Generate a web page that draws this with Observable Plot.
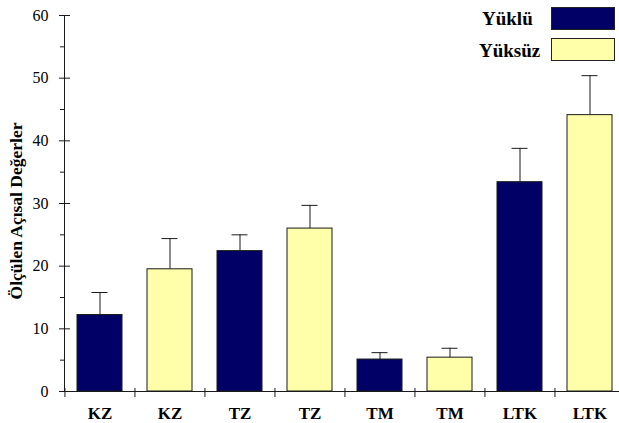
<!DOCTYPE html>
<html><head><meta charset="utf-8">
<script src="https://cdn.jsdelivr.net/npm/d3@7"></script>
<script src="https://cdn.jsdelivr.net/npm/@observablehq/plot@0.6"></script>
<style>
html,body{margin:0;padding:0;background:#fff;overflow:hidden}
#wrap{position:relative;width:619px;height:423px;overflow:hidden}
.leg{position:absolute;font:bold 19px "Liberation Serif","Times New Roman",serif;color:#000;white-space:nowrap;line-height:1}
.sw{position:absolute;box-sizing:border-box;border:1px solid #222}
</style></head><body><div id="wrap"></div>
<script>
const groups = ["KZ", "TZ", "TM", "LTK"];
const series = ["Yüklü", "Yüksüz"];
const loadedMean = [12.2, 22.4, 5.1, 33.4];
const loadedErr = [3.6, 2.6, 1.1, 5.4];
const unloadedMean = [19.5, 26.0, 5.4, 44.1];
const unloadedErr = [4.9, 3.7, 1.5, 6.3];
const colors = ["#000066", "#ffffaa"];
const yTicks = [0, 10, 20, 30, 40, 50, 60];
const yMinor = [5, 15, 25, 35, 45, 55];
const yLabel = "Ölçülen Açısal Değerler";

const data = [];
groups.forEach((g, i) => {
  data.push({id: g + "|" + series[0], group: g, series: series[0], mean: loadedMean[i], err: loadedErr[i]});
  data.push({id: g + "|" + series[1], group: g, series: series[1], mean: unloadedMean[i], err: unloadedErr[i]});
});
const ids = data.map(d => d.id);

const W = 619, H = 423, mL = 64, mR = -6, mT = 15, mB = 32;
const pInner = 0.36, pOuter = 0.18;
const step = (W - mL - mR) / (ids.length - pInner + 2 * pOuter);
const ink = "#1a1a1a";
const font = "'Liberation Serif','Times New Roman',serif";

const chart = Plot.plot({
  width: W, height: H,
  marginLeft: mL, marginRight: mR, marginTop: mT, marginBottom: mB,
  style: {fontFamily: font, background: "white", color: "#000"},
  x: {domain: ids, paddingInner: pInner, paddingOuter: pOuter, axis: null},
  y: {domain: [0, 60], axis: null},
  color: {domain: series, range: colors},
  marks: [
    Plot.ruleX(data, {x: "id", y1: "mean", y2: d => d.mean + d.err, stroke: ink}),
    Plot.tickY(data, {x: "id", y: d => d.mean + d.err, stroke: ink, insetLeft: 14.5, insetRight: 14.5}),
    Plot.barY(data, {x: "id", y: "mean", fill: "series", stroke: ink, strokeWidth: 1}),
    Plot.frame({anchor: "left", stroke: ink}),
    Plot.frame({anchor: "bottom", stroke: ink}),
    Plot.axisY({ticks: yTicks, tickSize: 11, dx: 6, text: null, label: null, stroke: ink}),
    Plot.axisY({ticks: yMinor, tickSize: 4, text: null, label: null, stroke: ink}),
    Plot.axisY({ticks: yTicks, tickSize: 0, tickPadding: 16, fontSize: 16, label: null, fill: "#000"}),
    Plot.axisX({tickSize: 9, dy: -3, dx: -step / 2, text: null, label: null, stroke: ink}),
    Plot.axisX({tickSize: 0, tickPadding: 15, tickFormat: id => id.split("|")[0], fontSize: 17, fontWeight: "bold", label: null, fill: "#000"}),
    Plot.text([yLabel], {frameAnchor: "left", textAnchor: "middle", rotate: -90, dx: -48, dy: 7.5, fontSize: 17.5, fontWeight: "bold", fill: "#000"})
  ]
});

const wrap = document.getElementById("wrap");
wrap.appendChild(chart);

// legend
const legText = [{left: 482, top: 9}, {left: 479, top: 41}];
const legBox = [{top: 7}, {top: 38}];
series.forEach((s, i) => {
  const t = document.createElement("div");
  t.className = "leg";
  t.textContent = s;
  t.style.left = legText[i].left + "px";
  t.style.top = legText[i].top + "px";
  wrap.appendChild(t);
  const b = document.createElement("div");
  b.className = "sw";
  b.style.left = "551px";
  b.style.top = legBox[i].top + "px";
  b.style.width = "64px";
  b.style.height = "23px";
  b.style.background = colors[i];
  wrap.appendChild(b);
});
</script>
</body></html>
